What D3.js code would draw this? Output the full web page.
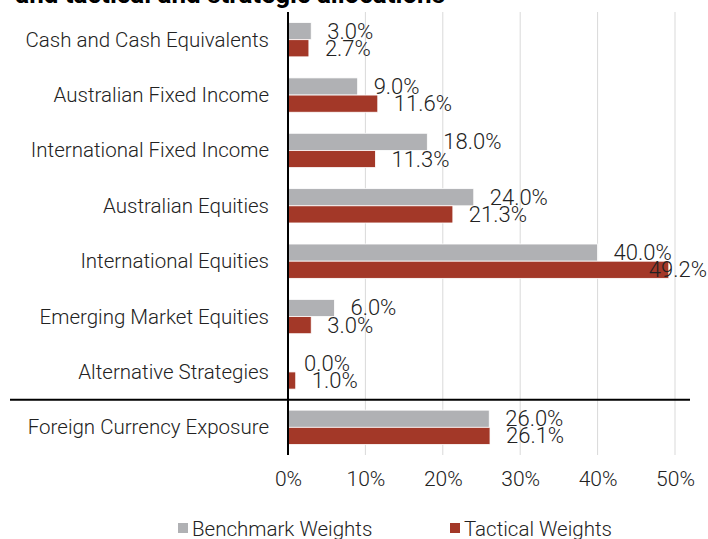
<!DOCTYPE html>
<html><head><meta charset="utf-8">
<script src="https://cdn.jsdelivr.net/npm/d3@7"></script>
<style>body{margin:0;background:#fff}svg{display:block}text{font-family:Roboto,sans-serif;font-weight:300}</style>
</head><body><svg id="c" width="708" height="539"></svg>
<script>
const categories = ["Cash and Cash Equivalents","Australian Fixed Income","International Fixed Income","Australian Equities","International Equities","Emerging Market Equities","Alternative Strategies","Foreign Currency Exposure"];
const benchmark = [3.0, 9.0, 18.0, 24.0, 40.0, 6.0, 0.0, 26.0];
const tactical = [2.7, 11.6, 11.3, 21.3, 49.2, 3.0, 1.0, 26.1];
const seriesNames = ["Benchmark Weights","Tactical Weights"];
const seriesColors = ["#b0b1b4","#a33828"];
const ticks = [0,10,20,30,40,50];
const title = "and tactical and strategic allocations";

const svg = d3.select("#c");
const W = 708;
const x = d3.scaleLinear().domain([0,50]).range([288,675]);
const y = d3.scaleBand().domain(categories).range([12,455]).paddingInner(0.38).paddingOuter(0.19);
const sub = d3.scaleBand().domain([0,1]).range([0,y.bandwidth()]);

svg.append("text").attr("x",445).attr("y",3).attr("text-anchor","end")
  .attr("font-family","Open Sans").style("font-weight","bold").attr("font-size",26).attr("fill","#000").text(title);

svg.append("g").selectAll("line").data(ticks.slice(1)).join("line")
  .attr("x1",d=>x(d)).attr("x2",d=>x(d)).attr("y1",12).attr("y2",455)
  .attr("stroke","#d9d9d9").attr("stroke-width",1);

const series = [benchmark, tactical];
series.forEach((vals,si)=>{
  const g = svg.append("g");
  g.selectAll("rect").data(vals).join("rect")
    .attr("x",x(0)).attr("y",(d,i)=>y(categories[i])+sub(si))
    .attr("width",d=>x(d)-x(0)).attr("height",sub.bandwidth())
    .attr("fill",seriesColors[si]).attr("stroke","#fff").attr("stroke-width",0.8);
});
series.forEach((vals,si)=>{
  const g = svg.append("g");
  g.selectAll("text").data(vals).join("text")
    .attr("font-size",22).attr("fill","#222").attr("dominant-baseline","central")
    .attr("y",(d,i)=>y(categories[i])+sub(si)+sub.bandwidth()/2)
    .text(d=>d.toFixed(1)+"%")
    .attr("x",function(d){
      const w = this.getComputedTextLength();
      return Math.min(x(d)+16, W-1-w);
    });
});

// category labels
svg.append("g").selectAll("text").data(categories).join("text")
  .attr("x",269).attr("y",d=>y(d)+y.bandwidth()/2).attr("text-anchor","end")
  .attr("dominant-baseline","central").attr("font-size",20.5).attr("fill","#222").text(d=>d);

// axis line and separator
svg.append("line").attr("x1",x(0)).attr("x2",x(0)).attr("y1",12).attr("y2",455).attr("stroke","#000").attr("stroke-width",2);
const sepY = (y(categories[6])+y.bandwidth()+y(categories[7]))/2;
svg.append("line").attr("x1",10).attr("x2",690).attr("y1",sepY).attr("y2",sepY).attr("stroke","#000").attr("stroke-width",2);

// x axis tick labels
const ax = svg.append("g").attr("transform","translate(0,455)")
  .call(d3.axisBottom(x).tickValues(ticks).tickFormat(d=>d+"%").tickSize(0).tickPadding(16));
ax.select(".domain").remove();
ax.selectAll("text").attr("font-size",21).attr("fill","#222").attr("font-family","Roboto").style("font-weight",300);

// legend
const lg = svg.append("g");
const lx = [178,450];
seriesNames.forEach((n,i)=>{
  lg.append("rect").attr("x",lx[i]).attr("y",523).attr("width",10).attr("height",10).attr("fill",seriesColors[i]);
  lg.append("text").attr("x",lx[i]+14).attr("y",536).attr("font-size",20.5).attr("fill","#222").text(n);
});
</script></body></html>
